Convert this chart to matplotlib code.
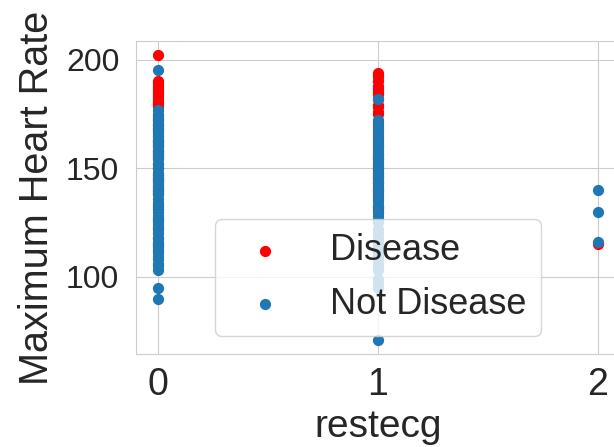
import numpy as np
import matplotlib
matplotlib.use("Agg")
import matplotlib.pyplot as plt
import seaborn as sns

# maximum heart rate grouped by resting ECG result
disease_restecg0 = [202, 190, 189, 188, 187, 186, 185, 184, 183, 182, 181, 180, 179, 178,
                    173, 172, 171, 170, 168, 167, 165, 163, 162, 160, 158, 157, 155, 152,
                    150, 147, 145, 144, 142, 140, 138, 133, 126, 123, 122, 118, 115, 114]
disease_restecg1 = [194, 193, 192, 190, 188, 187, 186, 185, 184, 182, 179, 178, 176, 175,
                    171, 169, 165, 163, 161, 160, 158, 156, 155, 154, 152, 150, 149, 148,
                    146, 145, 143, 142, 140, 139, 137, 132, 131, 130]
disease_restecg2 = [115]

healthy_restecg0 = [195, 177, 175, 174, 172, 170, 169, 168, 166, 165, 163, 162, 161, 160,
                    159, 158, 157, 156, 155, 154, 152, 150, 148, 147, 146, 145, 144, 143,
                    142, 141, 140, 139, 138, 136, 134, 132, 131, 130, 128, 127, 126, 125,
                    124, 122, 120, 118, 116, 115, 114, 113, 112, 111, 109, 108, 106, 105,
                    103, 95, 90]
healthy_restecg1 = [182, 172, 170, 168, 167, 166, 164, 162, 160, 159, 157, 156, 154, 153,
                    151, 150, 148, 147, 146, 144, 143, 141, 140, 138, 136, 135, 133, 132,
                    130, 128, 126, 125, 122, 120, 118, 116, 114, 112, 111, 109, 108, 106,
                    105, 103, 99, 97, 95, 71]
healthy_restecg2 = [140, 130, 116]

sns.set_style("whitegrid")
plt.rcParams['font.family'] = ['Liberation Sans', 'DejaVu Sans']
plt.rcParams['text.color'] = '.15'
plt.rcParams['axes.labelcolor'] = '.15'
plt.rcParams['xtick.color'] = '.15'
plt.rcParams['ytick.color'] = '.15'

fig = plt.figure(figsize=(6.14, 4.47), dpi=100)
ax = fig.add_axes([136 / 614, 93 / 447, 484 / 614, 313 / 447])

x_dis = [0] * len(disease_restecg0) + [1] * len(disease_restecg1) + [2] * len(disease_restecg2)
y_dis = disease_restecg0 + disease_restecg1 + disease_restecg2
x_ok = [0] * len(healthy_restecg0) + [1] * len(healthy_restecg1) + [2] * len(healthy_restecg2)
y_ok = healthy_restecg0 + healthy_restecg1 + healthy_restecg2

ax.scatter(x_dis, y_dis, c="red", s=50)
ax.scatter(x_ok, y_ok, c="#1f77b4", s=50)

ax.set_xticks([0, 1, 2])
ax.set_yticks([100, 150, 200])
ax.tick_params(axis='x', length=0, pad=9.5, labelsize=27)
ax.tick_params(axis='y', length=0, pad=12, labelsize=23)
ax.set_xlabel("restecg", fontsize=28, labelpad=4)
ax.set_ylabel("Maximum Heart Rate", fontsize=28.5, labelpad=7)

ax.legend(["Disease", "Not Disease"], loc="lower center", fontsize=26)

fig.savefig("out.png", dpi=100)
